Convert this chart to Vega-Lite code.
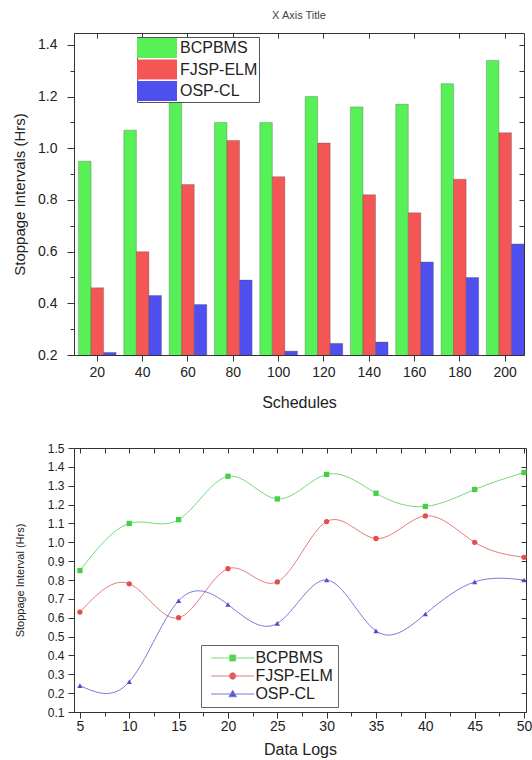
{
  "$schema": "https://vega.github.io/schema/vega-lite/v6.json",
  "padding": {"left": 12, "top": 9, "right": 2, "bottom": 0},
  "spacing": 30,
  "datasets": {
    "bars": [
      {"schedule": 20, "method": "BCPBMS", "value": 0.95},
      {"schedule": 20, "method": "FJSP-ELM", "value": 0.46},
      {"schedule": 20, "method": "OSP-CL", "value": 0.21},
      {"schedule": 40, "method": "BCPBMS", "value": 1.07},
      {"schedule": 40, "method": "FJSP-ELM", "value": 0.60},
      {"schedule": 40, "method": "OSP-CL", "value": 0.43},
      {"schedule": 60, "method": "BCPBMS", "value": 1.22},
      {"schedule": 60, "method": "FJSP-ELM", "value": 0.86},
      {"schedule": 60, "method": "OSP-CL", "value": 0.395},
      {"schedule": 80, "method": "BCPBMS", "value": 1.10},
      {"schedule": 80, "method": "FJSP-ELM", "value": 1.03},
      {"schedule": 80, "method": "OSP-CL", "value": 0.49},
      {"schedule": 100, "method": "BCPBMS", "value": 1.10},
      {"schedule": 100, "method": "FJSP-ELM", "value": 0.89},
      {"schedule": 100, "method": "OSP-CL", "value": 0.215},
      {"schedule": 120, "method": "BCPBMS", "value": 1.20},
      {"schedule": 120, "method": "FJSP-ELM", "value": 1.02},
      {"schedule": 120, "method": "OSP-CL", "value": 0.245},
      {"schedule": 140, "method": "BCPBMS", "value": 1.16},
      {"schedule": 140, "method": "FJSP-ELM", "value": 0.82},
      {"schedule": 140, "method": "OSP-CL", "value": 0.25},
      {"schedule": 160, "method": "BCPBMS", "value": 1.17},
      {"schedule": 160, "method": "FJSP-ELM", "value": 0.75},
      {"schedule": 160, "method": "OSP-CL", "value": 0.56},
      {"schedule": 180, "method": "BCPBMS", "value": 1.25},
      {"schedule": 180, "method": "FJSP-ELM", "value": 0.88},
      {"schedule": 180, "method": "OSP-CL", "value": 0.50},
      {"schedule": 200, "method": "BCPBMS", "value": 1.34},
      {"schedule": 200, "method": "FJSP-ELM", "value": 1.06},
      {"schedule": 200, "method": "OSP-CL", "value": 0.63}
    ],
    "lines": [
      {"logs": 5, "method": "BCPBMS", "value": 0.85},
      {"logs": 10, "method": "BCPBMS", "value": 1.10},
      {"logs": 15, "method": "BCPBMS", "value": 1.12},
      {"logs": 20, "method": "BCPBMS", "value": 1.35},
      {"logs": 25, "method": "BCPBMS", "value": 1.23},
      {"logs": 30, "method": "BCPBMS", "value": 1.36},
      {"logs": 35, "method": "BCPBMS", "value": 1.26},
      {"logs": 40, "method": "BCPBMS", "value": 1.19},
      {"logs": 45, "method": "BCPBMS", "value": 1.28},
      {"logs": 50, "method": "BCPBMS", "value": 1.37},
      {"logs": 5, "method": "FJSP-ELM", "value": 0.63},
      {"logs": 10, "method": "FJSP-ELM", "value": 0.78},
      {"logs": 15, "method": "FJSP-ELM", "value": 0.60},
      {"logs": 20, "method": "FJSP-ELM", "value": 0.86},
      {"logs": 25, "method": "FJSP-ELM", "value": 0.79},
      {"logs": 30, "method": "FJSP-ELM", "value": 1.11},
      {"logs": 35, "method": "FJSP-ELM", "value": 1.02},
      {"logs": 40, "method": "FJSP-ELM", "value": 1.14},
      {"logs": 45, "method": "FJSP-ELM", "value": 1.00},
      {"logs": 50, "method": "FJSP-ELM", "value": 0.92},
      {"logs": 5, "method": "OSP-CL", "value": 0.24},
      {"logs": 10, "method": "OSP-CL", "value": 0.26},
      {"logs": 15, "method": "OSP-CL", "value": 0.69},
      {"logs": 20, "method": "OSP-CL", "value": 0.67},
      {"logs": 25, "method": "OSP-CL", "value": 0.57},
      {"logs": 30, "method": "OSP-CL", "value": 0.80},
      {"logs": 35, "method": "OSP-CL", "value": 0.53},
      {"logs": 40, "method": "OSP-CL", "value": 0.62},
      {"logs": 45, "method": "OSP-CL", "value": 0.79},
      {"logs": 50, "method": "OSP-CL", "value": 0.80}
    ]
  },
  "vconcat": [
    {
      "title": {"text": "X Axis Title", "fontSize": 11, "fontWeight": "normal", "color": "#444", "offset": 12},
      "width": 450,
      "height": 322,
      "data": {"name": "bars"},
      "layer": [
        {
          "mark": {"type": "bar", "stroke": "#444", "strokeWidth": 0.6, "strokeOpacity": 0.5, "clip": true},
          "encoding": {
            "x": {"field": "schedule", "type": "ordinal", "scale": {"paddingInner": 0.17, "paddingOuter": 0.05, "align": 1},
              "axis": {"orient": "bottom", "title": "Schedules", "labelAngle": 0, "labelFontSize": 14, "titleFontSize": 16, "tickSize": 6, "labelPadding": 4, "titlePadding": 15}},
            "xOffset": {"field": "method", "type": "nominal", "sort": ["BCPBMS", "FJSP-ELM", "OSP-CL"]},
            "y": {"field": "value", "type": "quantitative", "scale": {"domain": [0.2, 1.446], "nice": false, "zero": false},
              "axis": {"orient": "left", "title": "Stoppage Intervals (Hrs)", "values": [0.2, 0.3, 0.4, 0.5, 0.6, 0.7, 0.8, 0.9, 1.0, 1.1, 1.2, 1.3, 1.4],
                "labelExpr": "round(datum.value*10) % 2 == 0 ? format(datum.value, '.1f') : ''",
                "tickSize": {"condition": {"test": "round(datum.value*10) % 2 == 1", "value": 4}, "value": 7},
                "labelFontSize": 14, "titleFontSize": 15, "labelPadding": 10, "titlePadding": 10}},
            "color": {"field": "method", "type": "nominal",
              "scale": {"domain": ["BCPBMS", "FJSP-ELM", "OSP-CL"], "range": ["#57f057", "#f45656", "#4f4ff0"]},
              "legend": {"orient": "none", "legendX": 63, "legendY": 4, "title": null, "symbolType": "M-2,-1H2V1H-2Z", "symbolSize": 400, "symbolOffset": 9, "labelOffset": 13, "labelFontSize": 16, "padding": 1, "rowPadding": 1.5, "strokeColor": "#555", "fillColor": "white", "symbolStrokeWidth": 0, "labelColor": "#222"}}
          }
        },
        {
          "mark": {"type": "point", "opacity": 0},
          "encoding": {
            "x": {"field": "schedule", "type": "ordinal", "axis": {"orient": "top", "labels": false, "title": null, "tickSize": -5, "domain": false}},
            "y": {"field": "value", "type": "quantitative", "axis": {"orient": "right", "labels": false, "title": null, "tickSize": -5, "domain": false, "values": [0.3, 0.4, 0.5, 0.6, 0.7, 0.8, 0.9, 1.0, 1.1, 1.2, 1.3, 1.4]}}
          }
        }
      ],
      "resolve": {"axis": {"x": "independent", "y": "independent"}}
    },
    {
      "width": 452,
      "height": 264,
      "data": {"name": "lines"},
      "layer": [
        {
          "transform": [{"filter": "datum.method === 'BCPBMS'"}],
          "mark": {"type": "line", "interpolate": "natural", "strokeWidth": 1, "color": "#45cf45", "opacity": 0.75},
          "encoding": {
            "x": {"field": "logs", "type": "quantitative", "scale": {"domain": [4.4, 50.2], "nice": false, "zero": false},
              "axis": {"orient": "bottom", "title": "Data Logs", "values": [5, 7.5, 10, 12.5, 15, 17.5, 20, 22.5, 25, 27.5, 30, 32.5, 35, 37.5, 40, 42.5, 45, 47.5, 50],
                "labelExpr": "datum.value % 5 == 0 ? format(datum.value, 'd') : ''",
                "tickSize": {"condition": {"test": "datum.value % 5 != 0", "value": 4}, "value": 6},
                "labelFontSize": 14, "titleFontSize": 16, "labelPadding": 1, "titlePadding": 8}},
            "y": {"field": "value", "type": "quantitative", "scale": {"domain": [0.1, 1.5], "nice": false, "zero": false},
              "axis": {"orient": "left", "title": "Stoppage Interval (Hrs)", "values": [0.1, 0.2, 0.3, 0.4, 0.5, 0.6, 0.7, 0.8, 0.9, 1.0, 1.1, 1.2, 1.3, 1.4, 1.5], "format": ".1f",
                "labelFontSize": 12, "titleFontSize": 11, "tickSize": 6, "labelPadding": 4, "titlePadding": 22}}
          }
        },
        {
          "transform": [{"filter": "datum.method === 'FJSP-ELM'"}],
          "mark": {"type": "line", "interpolate": "natural", "strokeWidth": 1, "color": "#e04f4f", "opacity": 0.75},
          "encoding": {"x": {"field": "logs", "type": "quantitative", "axis": null}, "y": {"field": "value", "type": "quantitative", "axis": null}}
        },
        {
          "transform": [{"filter": "datum.method === 'OSP-CL'"}],
          "mark": {"type": "line", "interpolate": "natural", "strokeWidth": 1, "color": "#4f4fc8", "opacity": 0.75},
          "encoding": {"x": {"field": "logs", "type": "quantitative", "axis": null}, "y": {"field": "value", "type": "quantitative", "axis": null}}
        },
        {
          "transform": [{"filter": "datum.method === 'BCPBMS'"}],
          "mark": {"type": "point", "shape": "square", "filled": true, "size": 28, "color": "#45cf45", "opacity": 1},
          "encoding": {"x": {"field": "logs", "type": "quantitative", "axis": null}, "y": {"field": "value", "type": "quantitative", "axis": null}}
        },
        {
          "transform": [{"filter": "datum.method === 'FJSP-ELM'"}],
          "mark": {"type": "point", "shape": "circle", "filled": true, "size": 28, "color": "#e04f4f", "opacity": 1},
          "encoding": {"x": {"field": "logs", "type": "quantitative", "axis": null}, "y": {"field": "value", "type": "quantitative", "axis": null}}
        },
        {
          "transform": [{"filter": "datum.method === 'OSP-CL'"}],
          "mark": {"type": "point", "shape": "triangle-up", "filled": true, "size": 28, "color": "#4f4fc8", "opacity": 1},
          "encoding": {"x": {"field": "logs", "type": "quantitative", "axis": null}, "y": {"field": "value", "type": "quantitative", "axis": null}}
        },
        {
          "mark": {"type": "point", "filled": true, "opacity": 0, "strokeWidth": 1},
          "encoding": {
            "x": {"field": "logs", "type": "quantitative", "axis": {"orient": "top", "labels": false, "title": null, "tickSize": -5, "domain": false, "values": [5, 7.5, 10, 12.5, 15, 17.5, 20, 22.5, 25, 27.5, 30, 32.5, 35, 37.5, 40, 42.5, 45, 47.5, 50]}},
            "y": {"field": "value", "type": "quantitative", "axis": {"orient": "right", "labels": false, "title": null, "tickSize": -5, "domain": false, "values": [0.2, 0.3, 0.4, 0.5, 0.6, 0.7, 0.8, 0.9, 1.0, 1.1, 1.2, 1.3, 1.4]}},
            "fill": {"field": "method", "type": "nominal",
              "scale": {"domain": ["BCPBMS", "FJSP-ELM", "OSP-CL"], "range": ["#45cf45", "#e04f4f", "#4f4fc8"]},
              "legend": {"orient": "none", "legendX": 127, "legendY": 197, "title": null, "symbolSize": 100, "symbolStrokeWidth": 1, "symbolOpacity": 1, "symbolOffset": 18.7, "labelOffset": 14.7, "labelFontSize": 16, "padding": 5, "rowPadding": 2, "strokeColor": "#666", "fillColor": "white", "labelColor": "#222"}},
            "stroke": {"field": "method", "type": "nominal",
              "scale": {"domain": ["BCPBMS", "FJSP-ELM", "OSP-CL"], "range": ["#78dc78", "#e87b7b", "#7b7bd6"]},
              "legend": {"orient": "none", "legendX": 127, "legendY": 197, "title": null, "symbolSize": 100, "symbolStrokeWidth": 1, "symbolOpacity": 1, "symbolOffset": 18.7, "labelOffset": 14.7, "labelFontSize": 16, "padding": 5, "rowPadding": 2, "strokeColor": "#666", "fillColor": "white", "labelColor": "#222"}},
            "shape": {"field": "method", "type": "nominal",
              "scale": {"domain": ["BCPBMS", "FJSP-ELM", "OSP-CL"], "range": ["M-4.3,0H4.3M-0.6,-0.6H0.6V0.6H-0.6Z", "M-4.3,0H4.3M0.65,0A0.65,0.65,0,1,1,-0.65,0A0.65,0.65,0,1,1,0.65,0Z", "M-4.3,0H4.3M0,-0.75L0.75,0.55H-0.75Z"]},
              "legend": {"orient": "none", "legendX": 127, "legendY": 197, "title": null, "symbolSize": 100, "symbolStrokeWidth": 1, "symbolOpacity": 1, "symbolOffset": 18.7, "labelOffset": 14.7, "labelFontSize": 16, "padding": 5, "rowPadding": 2, "strokeColor": "#666", "fillColor": "white", "labelColor": "#222"}}
          }
        }
      ],
      "resolve": {"axis": {"x": "independent", "y": "independent"}}
    }
  ],
  "resolve": {
    "scale": {"color": "independent", "fill": "independent", "stroke": "independent", "shape": "independent"},
    "legend": {"color": "independent", "fill": "independent", "stroke": "independent", "shape": "independent"}
  },
  "config": {
    "font": "Liberation Sans",
    "view": {"stroke": "#333", "strokeWidth": 1},
    "axis": {"domainColor": "#333", "tickColor": "#333", "labelColor": "#222", "titleColor": "#222", "titleFontWeight": "normal", "grid": false},
    "legend": {"labelFont": "Liberation Sans"}
  }
}
